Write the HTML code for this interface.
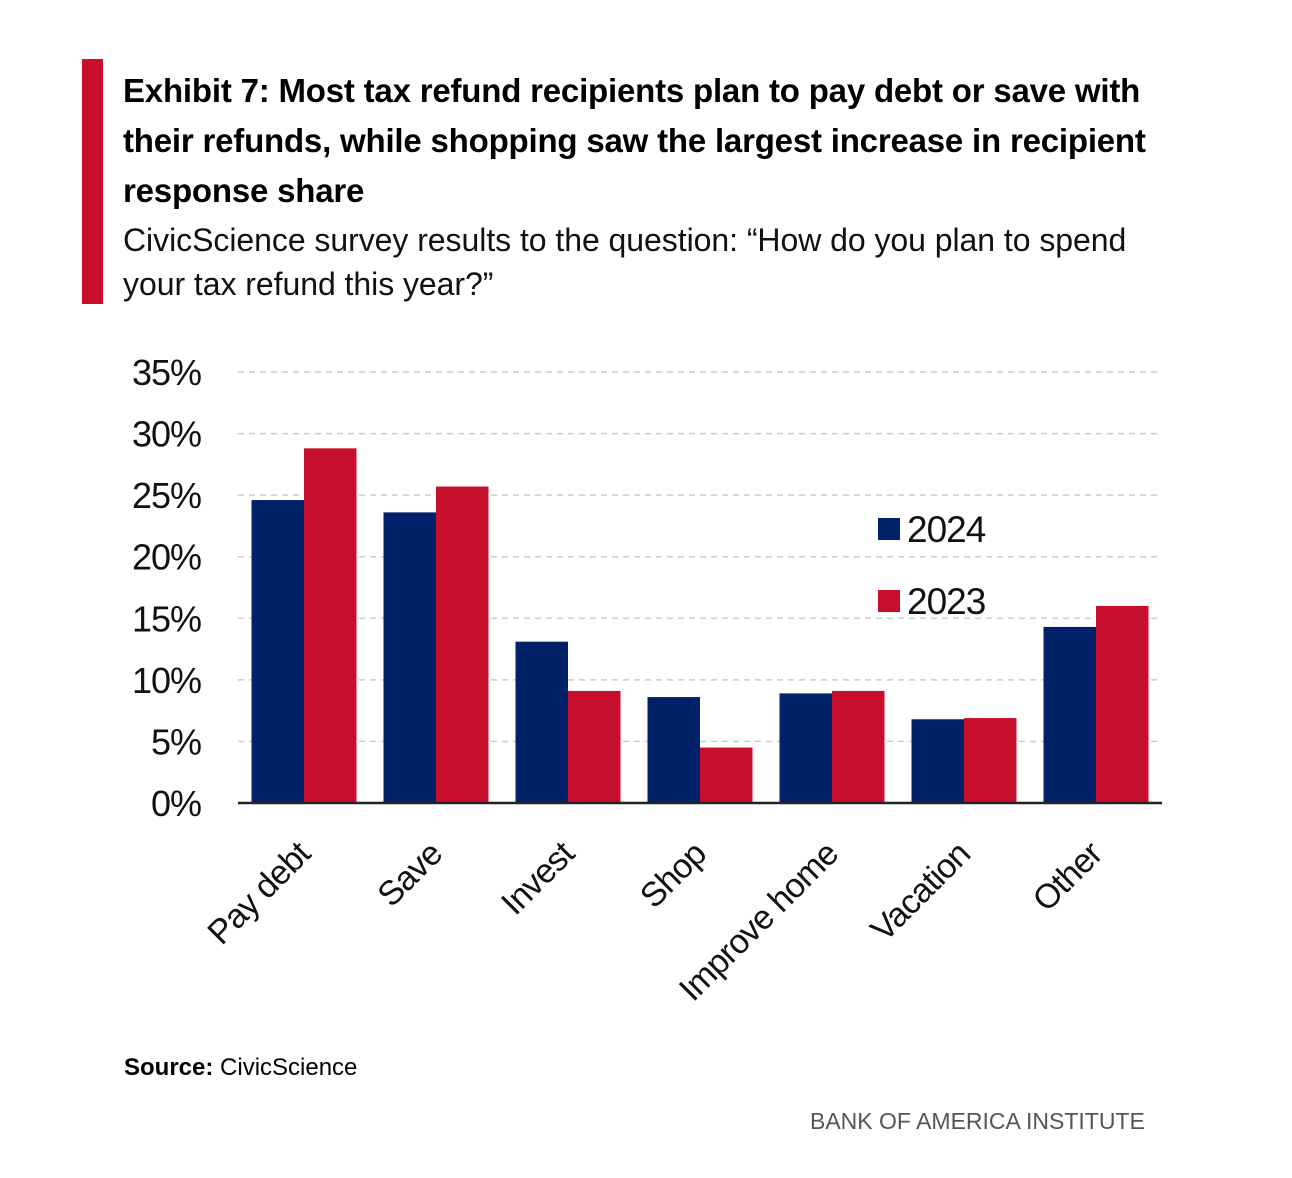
<!DOCTYPE html>
<html><head><meta charset="utf-8"><style>
body{margin:0;background:#fff;width:1292px;height:1178px;overflow:hidden;font-family:"Liberation Sans Narrow","Liberation Sans",sans-serif;}
#bar{position:absolute;left:82px;top:59px;width:21px;height:245px;background:#c8102e}
#title{position:absolute;left:123px;top:66px;white-space:nowrap;font-weight:bold;font-size:33px;line-height:50px;color:#000;letter-spacing:-0.2px}
#sub{position:absolute;left:123px;top:218px;white-space:nowrap;font-size:32px;line-height:44px;color:#111;letter-spacing:-0.05px}
#src{position:absolute;left:124px;top:1054px;font-size:24px;color:#000}
#boa{position:absolute;left:810px;top:1108px;font-size:23px;color:#555}
svg{position:absolute;left:0;top:0}
</style></head><body>
<div id="bar"></div>
<div id="title">Exhibit 7: Most tax refund recipients plan to pay debt or save with<br>their refunds, while shopping saw the largest increase in recipient<br>response share</div>
<div id="sub">CivicScience survey results to the question: “How do you plan to spend<br>your tax refund this year?”</div>
<svg id="chart" width="1292" height="1178"></svg>
<div id="src"><b>Source:</b> CivicScience</div>
<div id="boa">BANK OF AMERICA INSTITUTE</div>
<script>
const categories=["Pay debt","Save","Invest","Shop","Improve home","Vacation","Other"];
const values2024=[24.6,23.6,13.1,8.6,8.9,6.8,14.3];
const values2023=[28.8,25.7,9.1,4.5,9.1,6.9,16.0];
const yTicks=[0,5,10,15,20,25,30,35];
const svg=document.getElementById('chart');
const NS="http://www.w3.org/2000/svg";
const x0=238,x1=1162,y0=803,yTop=372;
const y=v=>y0-(v/35)*(y0-yTop);
const step=(x1-x0)/categories.length;
function mk(t,a,p){const e=document.createElementNS(NS,t);for(const k in a)e.setAttribute(k,a[k]);(p||svg).appendChild(e);return e;}
yTicks.forEach(t=>{
  if(t>0){const l=mk('line',{x1:x0,x2:x1,y1:y(t),y2:y(t),stroke:'#ccc','stroke-width':1.5,'stroke-dasharray':'6,5'});
  
  }
  const tx=mk('text',{x:201,y:y(t)+13,'text-anchor':'end','font-size':36,fill:'#111','letter-spacing':'-1'});
  tx.textContent=t+'%';
  
  
});
const bw=52.5;
categories.forEach((c,i)=>{
  const cx=x0+step*i+step/2;
  const b1=mk('rect',{x:cx-bw,y:y(values2024[i]),width:bw,height:y0-y(values2024[i]),fill:'#012169'});
  
  
  const b2=mk('rect',{x:cx,y:y(values2023[i]),width:bw,height:y0-y(values2023[i]),fill:'#c8102e'});
  
  
  const lx=cx+8,ly=856;
  const t=mk('text',{x:lx,y:ly,'text-anchor':'end','font-size':34,fill:'#111','letter-spacing':'-0.8',transform:`rotate(-45 ${lx} ${ly})`});
  t.textContent=c;
  
  
});
const ax=mk('line',{x1:x0,x2:x1,y1:y0,y2:y0,stroke:'#222','stroke-width':2.5});


[['2024','#012169',518],['2023','#c8102e',590]].forEach(([lab,col,yy])=>{
  const r=mk('rect',{x:878,y:yy,width:22,height:22,fill:col});
  
  
  const t=mk('text',{x:907,y:yy+24,'font-size':37,fill:'#111','letter-spacing':'-1'});
  t.textContent=lab;
  
  
});
</script>
</body></html>
